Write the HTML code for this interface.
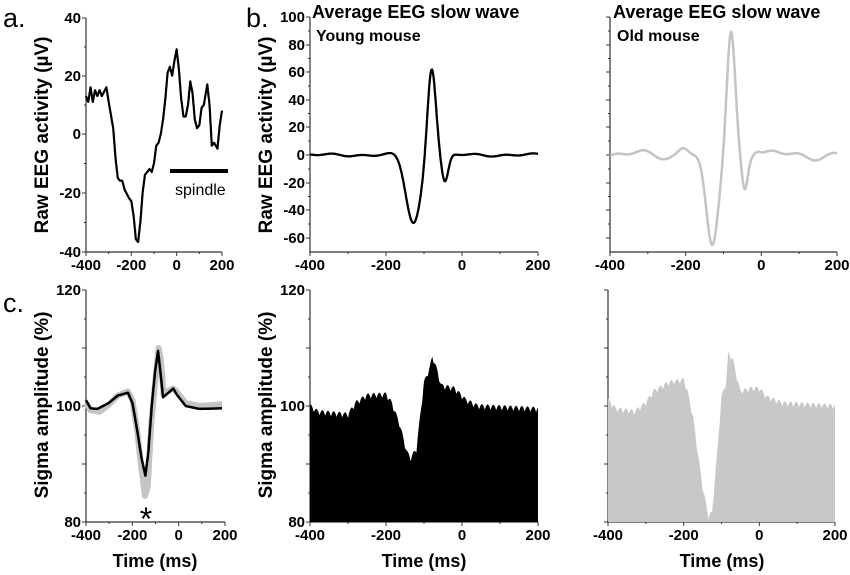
<!DOCTYPE html>
<html><head><meta charset="utf-8"><style>
body{margin:0;background:#fff}
svg{display:block;font-family:"Liberation Sans",Arial,sans-serif}
.t{font-weight:bold;font-size:15px}
.yl{font-weight:bold;font-size:19px}
</style></head><body>
<svg id="s" width="850" height="575" viewBox="0 0 850 575" xmlns="http://www.w3.org/2000/svg">
<g fill="#000">
<text x="3" y="27" style="font-size:27px">a.</text>
<text x="246" y="27" style="font-size:27px">b.</text>
<text x="3" y="312" style="font-size:27px">c.</text>
<text x="312" y="18" style="font-size:18px;font-weight:bold">Average EEG slow wave</text>
<text x="316" y="41" style="font-size:16px;font-weight:bold">Young mouse</text>
<text x="613" y="18" style="font-size:18px;font-weight:bold">Average EEG slow wave</text>
<text x="617" y="41" style="font-size:16px;font-weight:bold">Old mouse</text>
<text class="yl" transform="translate(48,135) rotate(-90)" text-anchor="middle">Raw EEG activity (µV)</text>
<text class="yl" transform="translate(272,135) rotate(-90)" text-anchor="middle">Raw EEG activity (µV)</text>
<text class="yl" transform="translate(48,405) rotate(-90)" text-anchor="middle">Sigma amplitude (%)</text>
<text class="yl" transform="translate(272,405) rotate(-90)" text-anchor="middle">Sigma amplitude (%)</text>
<text x="155" y="567" style="font-size:18px;font-weight:bold" text-anchor="middle">Time (ms)</text>
<text x="424" y="567" style="font-size:18px;font-weight:bold" text-anchor="middle">Time (ms)</text>
<text x="722" y="567" style="font-size:18px;font-weight:bold" text-anchor="middle">Time (ms)</text>
<text x="146" y="530" style="font-size:32px" text-anchor="middle">*</text>
<text x="175" y="195" style="font-size:16px">spindle</text>
</g>
<g id="g"></g>
</svg>
<script>
var NS="http://www.w3.org/2000/svg",G=document.getElementById('g');
function el(n,a,txt){var e=document.createElementNS(NS,n);for(var k in a)e.setAttribute(k,a[k]);if(txt!=null)e.textContent=txt;G.appendChild(e);return e;}
function interp(pts,t){for(var i=0;i<pts.length-1;i++){if(t<=pts[i+1][0]){var a=pts[i],b=pts[i+1],f=(t-a[0])/(b[0]-a[0]);return a[1]+f*(b[1]-a[1]);}}return pts[pts.length-1][1];}
function gs(t,m,s){return Math.exp(-(t-m)*(t-m)/(2*s*s));}
function axes(x0,x1,y0,y1,yt,ylab){
 el('line',{x1:x0,y1:y0,x2:x0,y2:y1+1,stroke:'#333','stroke-width':1.2});
 el('line',{x1:x0,y1:y1,x2:x1,y2:y1,stroke:'#333','stroke-width':1.2});
 for(var i=0;i<yt.length;i++){el('line',{x1:x0-4,y1:yt[i],x2:x0,y2:yt[i],stroke:'#333'});
  if(i<yt.length-1){var m=(yt[i]+yt[i+1])/2;el('line',{x1:x0-2,y1:m,x2:x0,y2:m,stroke:'#333'});}
  if(ylab)el('text',{x:x0-5,y:yt[i]+5,'text-anchor':'end','class':'t'},ylab[i]);}
 for(var j=0;j<=6;j++){var x=x0+(x1-x0)*j/6;el('line',{x1:x,y1:y1,x2:x,y2:y1+(j%2?2:4),stroke:'#333'});
  if(j%2==0)el('text',{x:x,y:y1+18,'text-anchor':'middle','class':'t'},['-400','','-200','','0','','200'][j]);}
}
function path(f,x0,x1,vy0,vsc,fill,base){var d='';for(var t=-400;t<=200;t+=1){var x=x0+(t+400)*(x1-x0)/600,y=vy0-f(t)*vsc;d+=(d?'L':'M')+x.toFixed(1)+','+y.toFixed(1);}
 if(fill){d+='L'+x1+','+base+'L'+x0+','+base+'Z';}return d;}
axes(86,222,18,252,[18,76,134,193,252],['40','20','0','-20','-40']);
var A=[[-400,13],[-390,11],[-380,16],[-370,11],[-360,15],[-350,13],[-340,15],[-330,13],[-310,16],[-300,11],[-280,2],[-270,-8],[-260,-15],[-250,-16],[-240,-16],[-230,-19],[-210,-22],[-200,-23],[-190,-28],[-180,-36],[-170,-37],[-160,-30],[-150,-20],[-140,-14],[-130,-13],[-120,-12],[-110,-13],[-100,-10],[-90,-4],[-80,-3],[-70,0],[-60,5],[-50,12],[-40,21],[-30,23],[-20,20],[-10,25],[0,29],[10,22],[20,12],[30,6],[40,6],[50,10],[60,18],[70,14],[80,5],[90,2],[100,3],[110,9],[120,10],[135,17],[145,10],[155,-4],[165,-3],[180,-5],[190,3],[200,8]];
el('path',{d:path(function(t){return interp(A,t)},86,222,134,2.92),fill:'none',stroke:'#000','stroke-width':2.2,'stroke-linejoin':'round'});
el('line',{x1:170,y1:171,x2:228,y2:171,stroke:'#000','stroke-width':4});
var ytB=[17,45,72,100,127,155,183,210,238];
axes(310,538,17,252,ytB,['100','80','60','40','20','0','-20','-40','-60']);
axes(610,837,17,252,ytB,null);
function young(t){return 1.2*Math.sin(t/17)*Math.sin(t/41)-50*gs(t,-128,20)+66*gs(t,-80,11)-20*gs(t,-45,9)+2*gs(t,-160,20);}
function old(t){var w=1-gs(t,-100,45);return w*(1.5*Math.sin(t/13)+2.5*Math.sin(t/30))+6*gs(t,-205,14)-66*gs(t,-130,16)+90*gs(t,-80,11)-24*gs(t,-44,8)+4*gs(t,-12,10);}
el('path',{d:path(young,310,538,155,1.375),fill:'none',stroke:'#000','stroke-width':2.3});
el('path',{d:path(old,610,837,155,1.375),fill:'none',stroke:'#c4c4c4','stroke-width':2.5});
var yS=[290,348,406,464,522];
axes(86,225,290,522,yS,['120','','100','','80']);
axes(310,538,290,522,yS,['120','','100','','80']);
axes(608,835,290,522,yS,null);
var Y=[[-400,100],[-380,99],[-300,98.5],[-280,100.5],[-250,101.8],[-200,102],[-185,100.5],[-165,97],[-145,92],[-135,91],[-120,92.5],[-100,104],[-85,106.5],[-78,108.5],[-65,106],[-55,103.5],[-20,103],[10,101],[40,100],[200,99.5]];
var O=[[-400,101],[-380,99.5],[-330,99],[-300,100.5],[-280,102.5],[-240,104],[-200,104.5],[-190,102.5],[-175,98],[-165,93],[-150,86],[-135,81],[-125,81.5],[-110,93],[-100,101.5],[-88,104],[-82,109],[-70,108],[-60,105],[-50,102.5],[-20,103],[0,103],[20,101.5],[60,100.5],[200,100]];
function rip(t,a){return a*Math.abs(Math.sin(Math.PI*t/15))-a*0.6;}
el('path',{d:path(function(t){return interp(Y,t)+rip(t,0.9)},310,538,290+120*5.8,5.8,true,522),fill:'#000'});
el('path',{d:path(function(t){return interp(O,t)+rip(t,0.9)},608,835,290+120*5.8,5.8,true,522),fill:'#c8c8c8'});
var Oc=[[-400,100.5],[-380,99.3],[-340,99],[-300,100.2],[-260,101.8],[-215,102.5],[-195,101],[-175,96],[-155,89],[-140,84.5],[-128,86],[-112,97],[-95,104],[-80,110],[-70,108],[-58,102],[-45,102.5],[-15,103],[0,102.5],[40,100.5],[100,100],[200,100.3]];
var Yc=[[-400,101],[-380,99.6],[-350,99.5],[-300,100.5],[-260,101.8],[-215,102.3],[-195,100.5],[-175,96],[-155,91],[-138,88],[-125,92],[-110,100],[-95,106],[-82,109.5],[-72,106],[-60,101.5],[-45,102],[-15,103],[0,102],[40,100],[100,99.5],[200,99.6]];
el('path',{d:path(function(t){return interp(Oc,t)},86,222,290+120*5.8,5.8),fill:'none',stroke:'#c4c4c4','stroke-width':6,'stroke-linejoin':'round'});
el('path',{d:path(function(t){return interp(Yc,t)},86,222,290+120*5.8,5.8),fill:'none',stroke:'#000','stroke-width':2.5,'stroke-linejoin':'round'});
</script>
</body></html>
